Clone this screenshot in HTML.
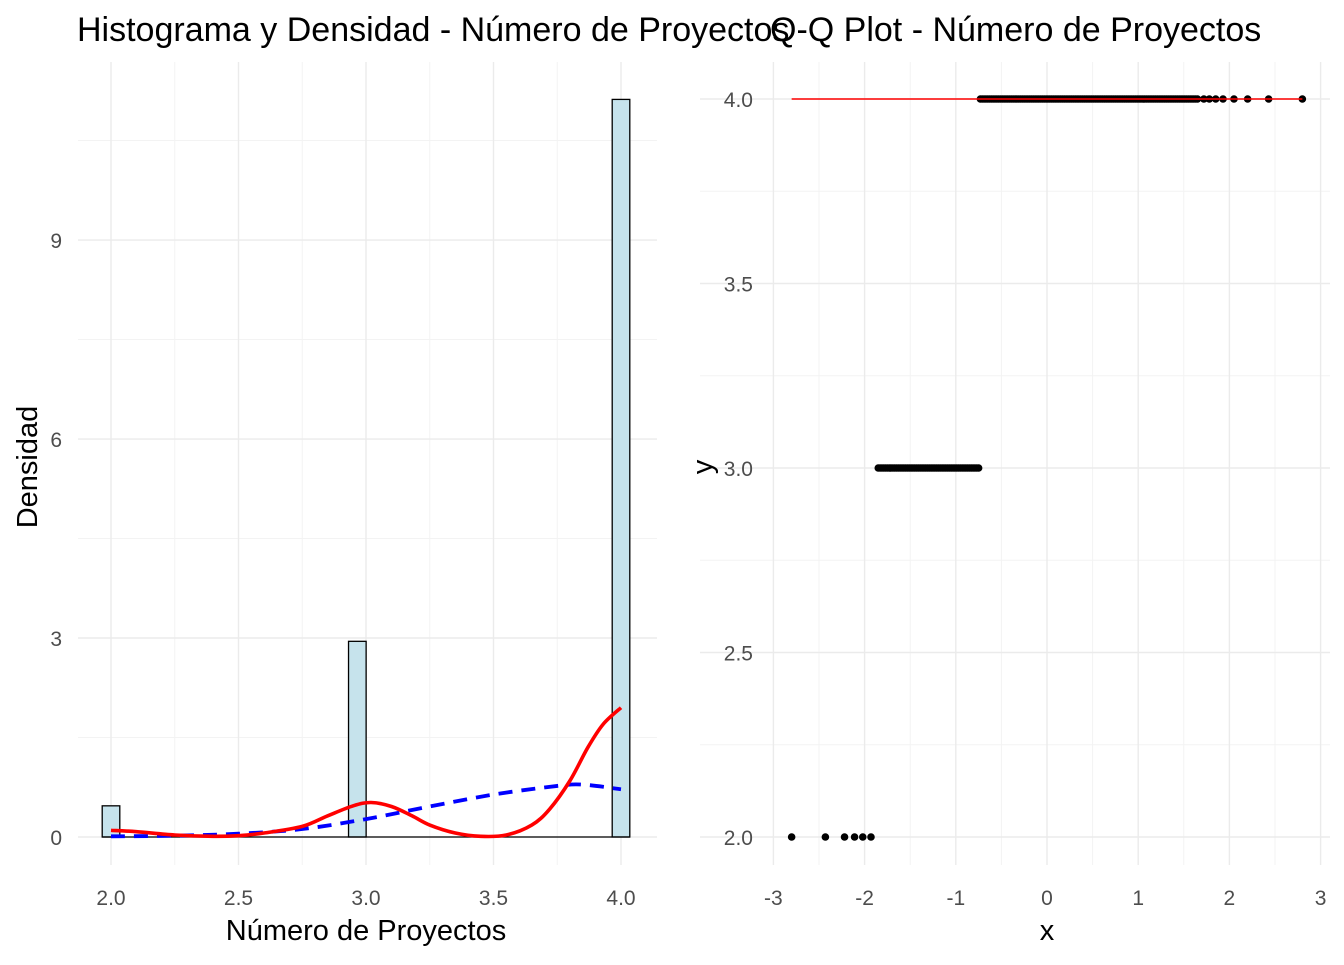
<!DOCTYPE html>
<html><head><meta charset="utf-8"><style>
body{margin:0;background:#fff;font-family:"Liberation Sans",Arial,sans-serif}
svg text{font-family:"Liberation Sans",Arial,sans-serif}
</style></head><body>
<svg id="c" width="1344" height="960" xmlns="http://www.w3.org/2000/svg"></svg>
<script>
// Left: histogram
const binCenters=[2.0,2.966,4.0];
const binDensity=[0.47,2.95,11.12];
const yTicksL=[0,3,6,9];
const xTicksL=[2.0,2.5,3.0,3.5,4.0];
const kdeX=[2.0,2.1,2.25,2.4,2.5,2.6,2.75,2.85,2.95,3.02,3.1,3.18,3.25,3.35,3.45,3.55,3.65,3.72,3.8,3.87,3.93,4.0];
const kdeY=[0.1,0.08,0.03,0.01,0.02,0.06,0.16,0.32,0.47,0.52,0.46,0.32,0.18,0.06,0.01,0.03,0.18,0.42,0.85,1.35,1.7,1.95];
const normX=[2.0,2.25,2.5,2.75,3.0,3.25,3.5,3.75,3.85,4.0];
const normY=[0.01,0.02,0.05,0.12,0.27,0.46,0.64,0.77,0.79,0.72];
// Right: QQ
const qqY2=[-2.8,-2.43,-2.22,-2.11,-2.02,-1.93];
const qqY4tail=[1.72,1.78,1.85,1.93,2.05,2.2,2.43,2.8];
const qq3range=[-1.85,-0.73];
const qq4range=[-0.73,1.66];
const yTicksR=[2.0,2.5,3.0,3.5,4.0];
const xTicksR=[-3,-2,-1,0,1,2,3];
const qqLine=[-2.8,2.8,4.0];

const svg=document.getElementById('c');const NS='http://www.w3.org/2000/svg';
function mk(t,a,txt){const e=document.createElementNS(NS,t);for(const k in a)e.setAttribute(k,a[k]);if(txt!==undefined)e.textContent=txt;svg.appendChild(e);return e;}
const xL=v=>111+(v-2)*255, yL=v=>837-v*66.33;
const xR=v=>1047+v*91.2, yR=v=>837-(v-2)*369;
function smooth(P){let d='M'+P[0][0]+','+P[0][1];for(let i=0;i<P.length-1;i++){const p0=P[Math.max(0,i-1)],p1=P[i],p2=P[i+1],p3=P[Math.min(P.length-1,i+2)];
 d+=' C'+(p1[0]+(p2[0]-p0[0])/6)+','+(p1[1]+(p2[1]-p0[1])/6)+' '+(p2[0]-(p3[0]-p1[0])/6)+','+(p2[1]-(p3[1]-p1[1])/6)+' '+p2[0]+','+p2[1];}return d;}
// left grid
for(let v=1.5;v<12;v+=3){let e=mk('line',{x1:78,x2:657,y1:yL(v),y2:yL(v),stroke:'#f3f3f3','stroke-width':1});}
for(let v=2.25;v<4.1;v+=0.5){let e=mk('line',{x1:xL(v),x2:xL(v),y1:62,y2:865,stroke:'#f3f3f3','stroke-width':1});}
yTicksL.forEach(v=>{let e=mk('line',{x1:78,x2:657,y1:yL(v),y2:yL(v),stroke:'#ebebeb','stroke-width':1.4});
 let t=mk('text',{x:62,y:yL(v)+8,'font-size':21,fill:'#4d4d4d','text-anchor':'end'},v);});
xTicksL.forEach(v=>{let e=mk('line',{x1:xL(v),x2:xL(v),y1:62,y2:865,stroke:'#ebebeb','stroke-width':1.4});
 let t=mk('text',{x:xL(v),y:905,'font-size':21,fill:'#4d4d4d','text-anchor':'middle'},v.toFixed(1));});
const bw=0.069*255;
binCenters.forEach((c,i)=>{let e=mk('rect',{x:xL(c)-bw/2,y:yL(binDensity[i]),width:bw,height:yL(0)-yL(binDensity[i]),fill:'#c6e3ec',stroke:'#000','stroke-width':1.3});});
let bl=mk('line',{x1:xL(2)-bw/2,x2:xL(4)+bw/2,y1:yL(0),y2:yL(0),stroke:'#000','stroke-width':1.3});
let pn=mk('path',{d:smooth(normX.map((x,i)=>[xL(x),yL(normY[i])])),fill:'none',stroke:'#0000ff','stroke-width':3.8,'stroke-dasharray':'14,9'});
let pk=mk('path',{d:smooth(kdeX.map((x,i)=>[xL(x),yL(kdeY[i])])),fill:'none',stroke:'#ff0000','stroke-width':3.6,'stroke-linejoin':'round'});
let t1=mk('text',{x:77,y:41,'font-size':34,fill:'#000'},'Histograma y Densidad - Número de Proyectos');
let t2=mk('text',{x:366,y:940,'font-size':29,fill:'#000','text-anchor':'middle'},'Número de Proyectos');
let t3=mk('text',{x:37,y:467,'font-size':29,fill:'#000','text-anchor':'middle',transform:'rotate(-90 37 467)'},'Densidad');
// right grid
for(let v=2.25;v<4.1;v+=0.5){let e=mk('line',{x1:700,x2:1330,y1:yR(v),y2:yR(v),stroke:'#f3f3f3','stroke-width':1});}
for(let v=-2.5;v<3;v+=1){let e=mk('line',{x1:xR(v),x2:xR(v),y1:62,y2:865,stroke:'#f3f3f3','stroke-width':1});}
yTicksR.forEach(v=>{let e=mk('line',{x1:700,x2:1330,y1:yR(v),y2:yR(v),stroke:'#ebebeb','stroke-width':1.4});
 let t=mk('text',{x:753,y:yR(v)+8,'font-size':21,fill:'#4d4d4d','text-anchor':'end'},v.toFixed(1));});
xTicksR.forEach(v=>{let e=mk('line',{x1:xR(v),x2:xR(v),y1:62,y2:865,stroke:'#ebebeb','stroke-width':1.4});
 let t=mk('text',{x:xR(v),y:905,'font-size':21,fill:'#4d4d4d','text-anchor':'middle'},v);});
function pt(x,y){let e=mk('circle',{cx:xR(x),cy:yR(y),r:3.8,fill:'#000'});}
qqY2.forEach(x=>pt(x,2));
for(let x=qq3range[0];x<=qq3range[1];x+=0.02)pt(x,3);
for(let x=qq4range[0];x<=qq4range[1];x+=0.02)pt(x,4);
qqY4tail.forEach(x=>pt(x,4));
let ql=mk('line',{x1:xR(qqLine[0]),x2:xR(qqLine[1]),y1:yR(qqLine[2]),y2:yR(qqLine[2]),stroke:'#ff0000','stroke-width':1.5});
let t4=mk('text',{x:770,y:41,'font-size':34,fill:'#000'},'Q-Q Plot - Número de Proyectos');
let t5=mk('text',{x:1047,y:940,'font-size':29,fill:'#000','text-anchor':'middle'},'x');
let t6=mk('text',{x:712,y:467,'font-size':29,fill:'#000','text-anchor':'middle',transform:'rotate(-90 712 467)'},'y');
</script>
</body></html>
